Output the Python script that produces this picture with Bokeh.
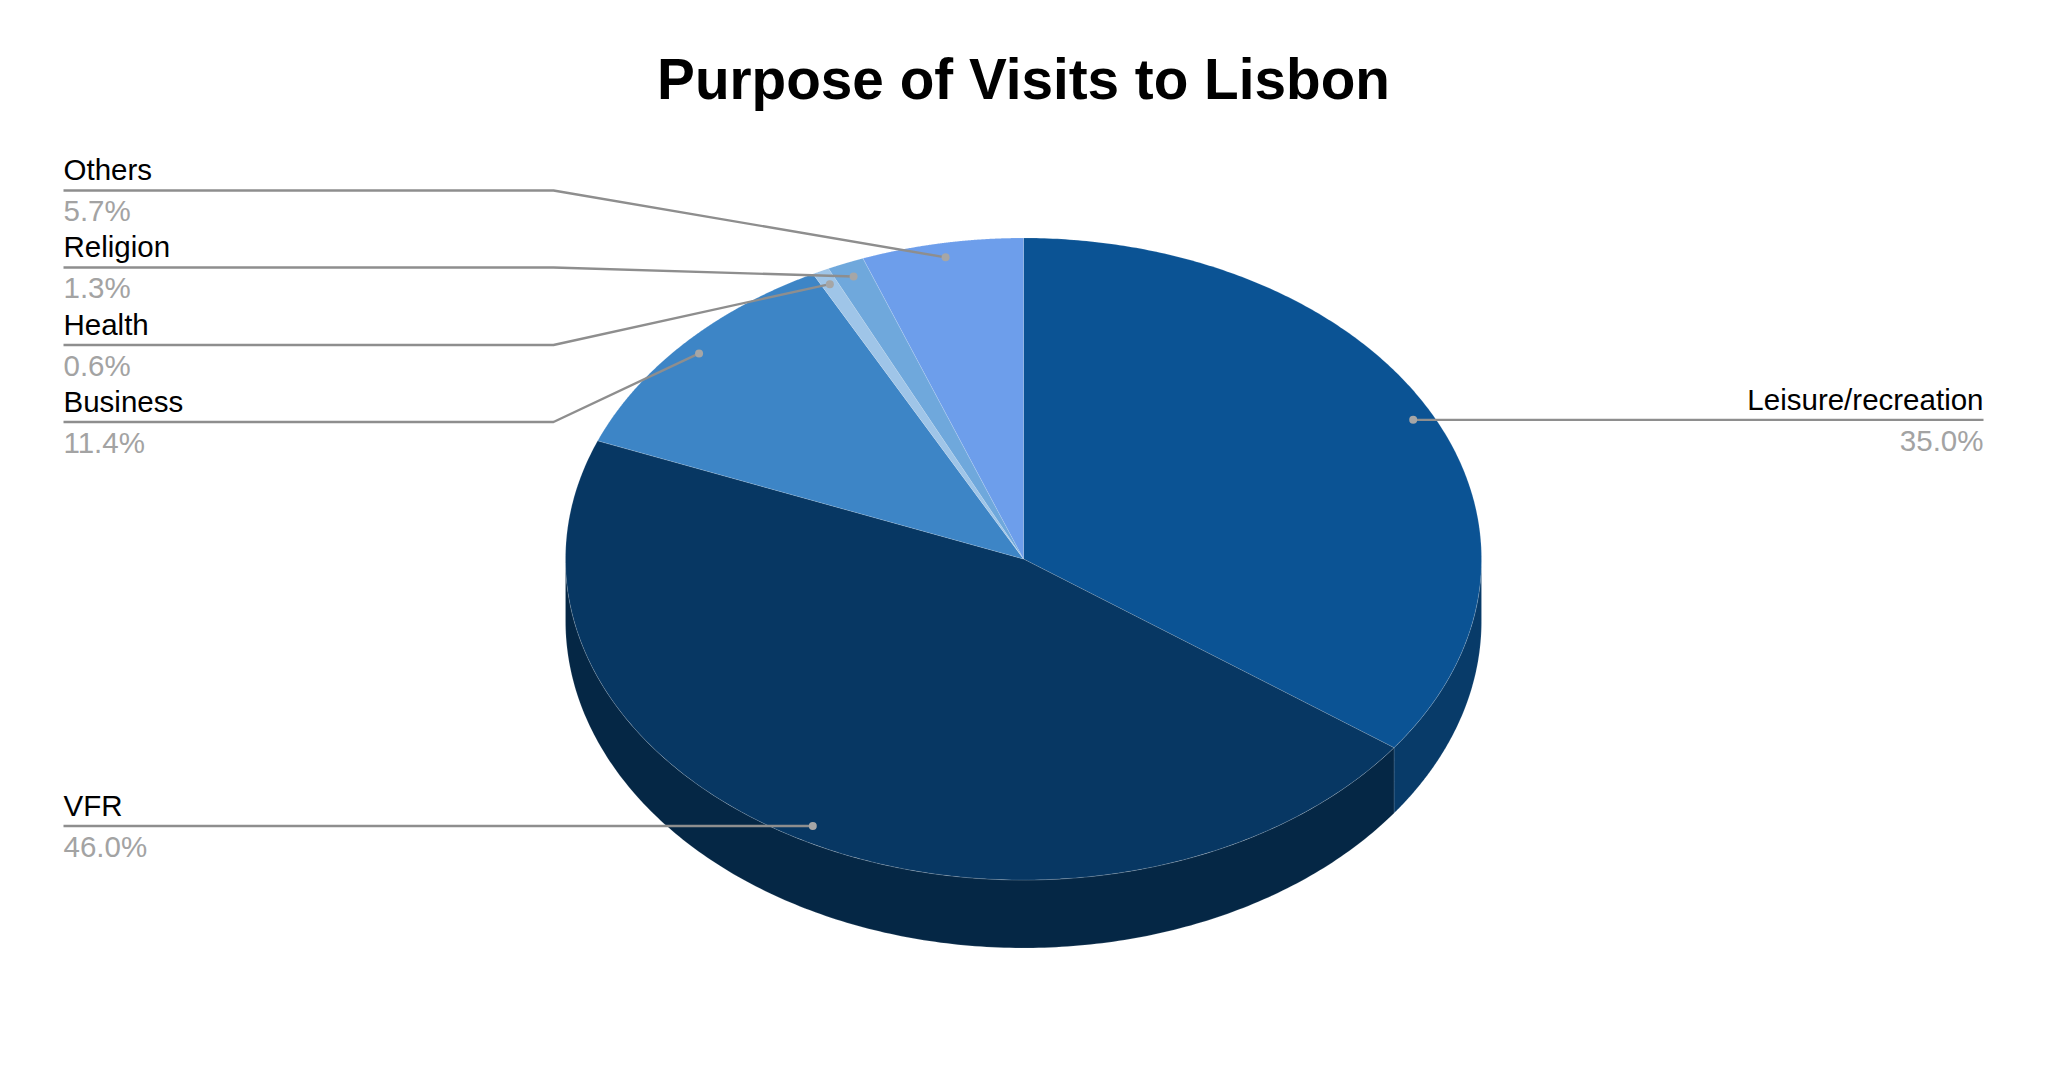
import numpy as np
from bokeh.plotting import figure
from bokeh.models import Range1d
from bokeh.core.properties import value
from bokeh.embed import file_html
from bokeh.resources import INLINE

title_text = "Purpose of Visits to Lisbon"
categories = ["Leisure/recreation", "VFR", "Business", "Health", "Religion", "Others"]
shares = [35.0, 46.0, 11.4, 0.6, 1.3, 5.7]
top_colors = ["#0b5394", "#073763", "#3d85c6", "#9fc5e8", "#6fa8dc", "#6d9eeb"]
side_colors = ["#083b69", "#052745", "#2b5e8c", "#708ca4", "#4e779c", "#4d70a6"]

# layout, in picture pixels
CX, CY, RX, RY = 1023.0, 558.5, 458.0, 321.0
BOTTOM_DZ, BOTTOM_RY = 62.0, 327.0
DOT_FRAC = 0.955
LEFT_X, LEFT_ELBOW, RIGHT_X = 63.0, 553.0, 1983.0
LEFT_LINE_Y = {"Others": 190.0, "Religion": 267.0, "Health": 344.5, "Business": 421.5, "VFR": 825.5}
FONT = "Liberation Sans"
LABEL_PX, TITLE_PX = 29.5, 56.7
BASE_SHIFT = 0.36  # bokeh's svg text sits this fraction of the size below its anchor

p = figure(width=2032, height=1049, output_backend="svg", toolbar_location=None,
           x_range=Range1d(0, 2032), y_range=Range1d(1049, 0),
           min_border=0, outline_line_color=None, background_fill_color="white")
p.axis.visible = False
p.grid.visible = False


def ell(theta_deg, frac=1.0):
    t = np.radians(theta_deg)
    return CX + RX * frac * np.sin(t), CY - RY * frac * np.cos(t)


def ell_bottom(theta_deg):
    t = np.radians(theta_deg)
    return CX + RX * np.sin(t), CY + BOTTOM_DZ - BOTTOM_RY * np.cos(t)


edges = np.concatenate([[0.0], np.cumsum(shares)]) * 3.6

# side wall (only the front half of the rim shows)
for a, b, c in zip(edges[:-1], edges[1:], side_colors):
    lo, hi = max(a, 90.0), min(b, 270.0)
    if hi <= lo:
        continue
    th = np.linspace(lo, hi, 200)
    xt, yt = ell(th)
    xb, yb = ell_bottom(th[::-1])
    p.patch(np.concatenate([xt, xb]), np.concatenate([yt, yb]), fill_color=c,
            line_color="white", line_alpha=0.2, line_width=0.7)

# top face
for a, b, c in zip(edges[:-1], edges[1:], top_colors):
    th = np.linspace(a, b, 240)
    xt, yt = ell(th)
    p.patch(np.concatenate([[CX], xt]), np.concatenate([[CY], yt]), fill_color=c,
            line_color="white", line_alpha=0.2, line_width=0.7)


def label(x, y, s, color, align, size=LABEL_PX, style="normal"):
    p.text([x], [y - BASE_SHIFT * size], text=[s], text_font=value(FONT),
           text_font_size=f"{size}px", text_font_style=style, text_color=color,
           text_align=align, text_baseline="alphabetic")


# callouts
for name, a, b, s in zip(categories, edges[:-1], edges[1:], shares):
    mid = (a + b) / 2
    dx, dy = ell(mid, DOT_FRAC)
    dx, dy = float(dx), float(dy)
    if mid < 180:
        ly = dy
        xs, ys = [dx, RIGHT_X], [dy, dy]
        tx, align = RIGHT_X, "right"
    else:
        ly = LEFT_LINE_Y[name]
        tx, align = LEFT_X, "left"
        if name == "VFR":
            dy = ly
            xs, ys = [LEFT_X, dx], [ly, dy]
        else:
            xs, ys = [LEFT_X, LEFT_ELBOW, dx], [ly, ly, dy]
    p.line(xs, ys, line_color="#8e8e8e", line_width=2.4)
    p.scatter([dx], [dy], size=8, fill_color="#a6a6a6", line_color=None)
    label(tx, ly - 10, name, "#000000", align)
    label(tx, ly + 31, f"{s:.1f}%", "#a3a3a3", align)

label(CX, 99.5, title_text, "#000000", "center", size=TITLE_PX, style="bold")

open("out.html", "w").write(file_html(p, INLINE))
